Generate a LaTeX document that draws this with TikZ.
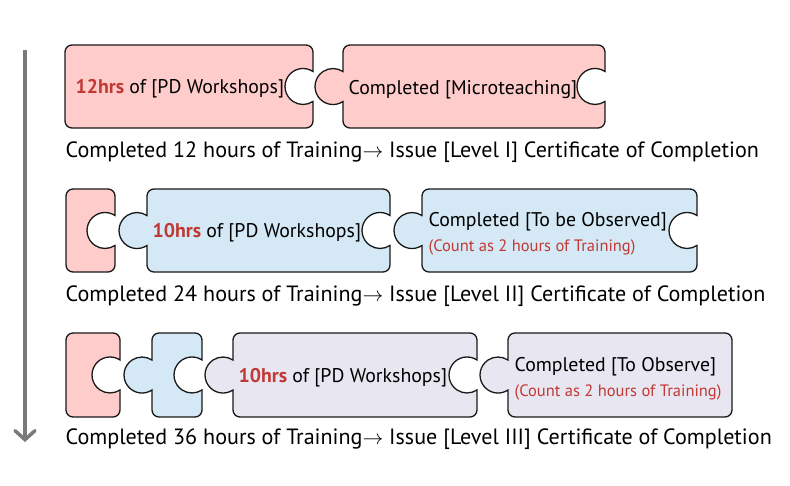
\documentclass[tikz,border=0pt]{standalone}
\usepackage{fontspec}
\setmainfont{PT Sans}
\usetikzlibrary{arrows.meta}
\definecolor{pinkfill}{RGB}{255,204,204}
\definecolor{bluefill}{RGB}{212,233,245}
\definecolor{lilacfill}{RGB}{232,230,240}
\definecolor{hrsred}{RGB}{192,57,52}
\newcommand\hrs[1]{\textcolor{hrsred}{\bfseries #1}}
\newcommand\piece[7]{%
  \def\knob{}\def\notch{}%
  \ifnum#6=1 \def\knob{-- (#2,{(#4+#5)/2+15}) arc [start angle = 56.3, end angle = 303.7, radius = 18]}\fi
  \ifnum#7=1 \def\notch{-- (#3,{(#4+#5)/2-15}) arc [start angle = -56.3, end angle = -303.7, radius = 18]}\fi
  \path [draw, fill = #1] (#2+7,#4) -- (#3-7,#4) arc [start angle = -90, end angle = 0, radius = 7] \notch
    -- (#3,#5-7) arc [start angle = 0, end angle = 90, radius = 7] -- (#2+7,#5) arc [start angle = 90, end angle = 180, radius = 7] \knob
    -- (#2,#4+7) arc [start angle = 180, end angle = 270, radius = 7] -- cycle;
}
\tikzset{
  boxtext/.style = {anchor = base west, inner sep = 0, font = \fontsize{19.8}{23}\selectfont},
  notetext/.style = {anchor = base west, inner sep = 0, text = hrsred, font = \fontsize{16.5}{19}\selectfont},
  caption/.style = {anchor = base west, inner sep = 0, font = \fontsize{22.1}{26}\selectfont}
}
\begin{document}
\begin{tikzpicture}[x = 1pt, y = -1pt, line width = 1.3pt, draw = black!90]
\useasboundingbox (0,0) rectangle (790,485);
\coordinate (top) at (25,50);
\coordinate (bottom) at (25,442);
\path [draw, line width = 3.5pt, black!52, -{Straight Barb[length = 9pt, width = 20pt, line cap = round]}] (top) -- (bottom);

\piece{pinkfill}{65}{313}{45}{128}{0}{1}
\piece{pinkfill}{343}{605}{45}{128}{1}{1}
\node (w1) [boxtext] at (75,93) {\hrs{12hrs} of [PD Workshops]};
\node (m1) [boxtext] at (348,94) {Completed [Microteaching]};
\node (c1) [caption] at (65,157) {Completed 12 hours of Training$\rightarrow$ Issue [Level I] Certificate of Completion};

\piece{pinkfill}{66}{115}{189}{272}{0}{1}
\piece{bluefill}{147}{390}{189}{272}{1}{1}
\piece{bluefill}{422}{697}{189}{272}{1}{1}
\node (w2) [boxtext] at (152,237) {\hrs{10hrs} of [PD Workshops]};
\node (o2) [boxtext] at (428,226) {Completed [To be Observed]};
\node (n2) [notetext] at (428,251) {(Count as 2 hours of Training)};
\node (c2) [caption] at (65,301) {Completed 24 hours of Training$\rightarrow$ Issue [Level II] Certificate of Completion};

\piece{pinkfill}{66}{120}{333}{417}{0}{1}
\piece{bluefill}{152}{202}{333}{417}{1}{1}
\piece{lilacfill}{233}{477}{333}{417}{1}{1}
\piece{lilacfill}{508}{732}{333}{417}{1}{0}
\node (w3) [boxtext] at (238,382) {\hrs{10hrs} of [PD Workshops]};
\node (o3) [boxtext] at (514,371) {Completed [To Observe]};
\node (n3) [notetext] at (514,396) {(Count as 2 hours of Training)};
\node (c3) [caption] at (65,444) {Completed 36 hours of Training$\rightarrow$ Issue [Level III] Certificate of Completion};
\end{tikzpicture}
\end{document}
